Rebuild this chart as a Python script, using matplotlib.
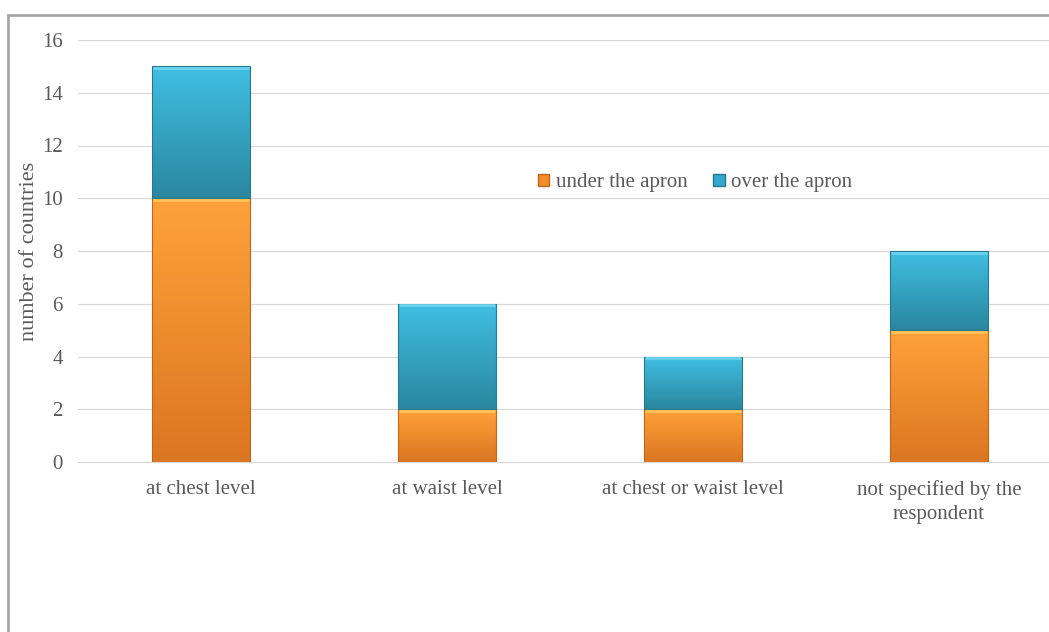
import numpy as np
import matplotlib.pyplot as plt
from matplotlib.colors import LinearSegmentedColormap
from matplotlib.patches import Rectangle, Patch

plt.rcParams['font.family'] = ['Liberation Serif', 'DejaVu Serif']

categories = ['at chest level', 'at waist level', 'at chest or waist level',
              'not specified by the\nrespondent']
under_apron = [10, 2, 2, 5]
over_apron = [5, 4, 2, 3]
series_names = ['under the apron', 'over the apron']

text_color = '#595959'
orange = ('#FFA23A', '#DB7621', '#C0661B', '#FFC45A')   # top, bottom, edge, highlight
blue = ('#40BFE2', '#2A879F', '#26788F', '#6CD2EE')


def gradient_fill(ax, bars, top, bottom, edge, light):
    cmap = LinearSegmentedColormap.from_list('g', [bottom, top])
    grad = np.linspace(0, 1, 256).reshape(-1, 1)
    for b in bars:
        x, y = b.get_x(), b.get_y()
        w, h = b.get_width(), b.get_height()
        im = ax.imshow(grad, cmap=cmap, aspect='auto', origin='lower',
                       extent=(x, x + w, y, y + h), zorder=2)
        im.set_clip_path(b)
        b.set_facecolor('none')
        b.set_edgecolor(edge)
        b.set_linewidth(0.8)
        b.set_zorder(3)
        # light strip along the top edge of each segment
        ax.plot([x + 0.004, x + w - 0.004], [y + h - 0.06, y + h - 0.06],
                color=light, lw=2, zorder=3, solid_capstyle='butt')


fig = plt.figure(figsize=(10.49, 6.32), dpi=100)
fig.patches.append(Rectangle((8 / 1049, -0.05), 1.1, 1 - 15 / 632 + 0.05,
                             transform=fig.transFigure, fill=False,
                             edgecolor='#A6A6A6', lw=2))

ax = fig.add_axes([78 / 1049, 170 / 632, 984 / 1049, 422 / 632])
x = np.arange(len(categories))
b1 = ax.bar(x, under_apron, width=0.4)
b2 = ax.bar(x, over_apron, width=0.4, bottom=under_apron)
gradient_fill(ax, b1, *orange)
gradient_fill(ax, b2, *blue)

ax.set_xlim(-0.5, 3.5)
ax.set_ylim(0, 16)
ax.set_yticks(range(0, 17, 2))
ax.set_xticks(x)
ax.set_xticklabels(categories, fontsize=15, color=text_color, linespacing=1.38)
ax.tick_params(axis='y', labelsize=15, labelcolor=text_color, length=0, pad=11)
ax.tick_params(axis='x', length=0, pad=13)
ax.grid(axis='y', color='#D9D9D9', lw=0.9)
ax.set_axisbelow(True)
for s in ['top', 'right', 'left']:
    ax.spines[s].set_visible(False)
ax.spines['bottom'].set_color('#D9D9D9')
ax.set_ylabel('number of countries', fontsize=16, color=text_color)
ax.yaxis.set_label_coords(-39 / 984, 0.5)

handles = [Patch(facecolor='#F28C28', edgecolor=orange[2]),
           Patch(facecolor='#33A8CC', edgecolor=blue[2])]
fig.legend(handles, series_names, loc='center', ncol=2, frameon=False,
           bbox_to_anchor=(695 / 1049, 1 - 183 / 632), fontsize=15,
           labelcolor=text_color, handlelength=0.55, handleheight=0.55,
           handletextpad=0.3, columnspacing=1.25)

fig.savefig('out.png', dpi=100)
